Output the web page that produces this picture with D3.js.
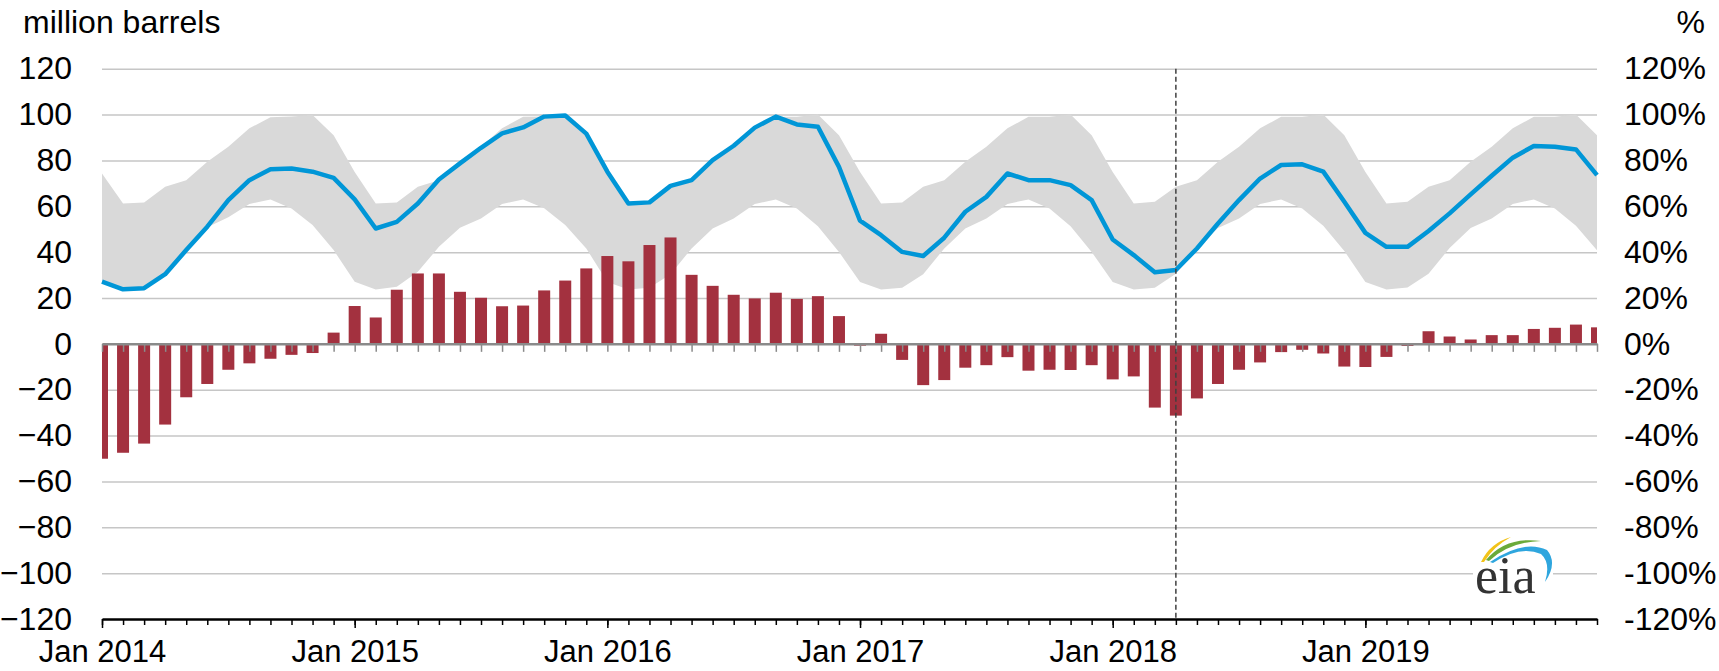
<!DOCTYPE html>
<html>
<head>
<meta charset="utf-8">
<style>
  body { margin: 0; background: #fff; }
  svg { display: block; }
  text { font-family: "Liberation Sans", Arial, sans-serif; fill: #000; }
  .tick text { font-size: 32px; }
</style>
<script src="https://d3js.org/d3.v7.min.js"></script>
</head>
<body>
<svg id="chart" width="1719" height="671"></svg>
<script>
// categories: one entry per month, Jan 2014 .. Dec 2019
const years = [2014, 2015, 2016, 2017, 2018, 2019];
const monthNames = ['Jan', 'Feb', 'Mar', 'Apr', 'May', 'Jun', 'Jul', 'Aug', 'Sep', 'Oct', 'Nov', 'Dec'];
const months = d3.merge(years.map(y => monthNames.map(m => m + ' ' + y)));

// bars: million barrels (left axis)
const stockDiff = [
  -50.1, -47.5, -43.5, -35.2, -23.3, -17.5, -11.3, -8.5, -6.5, -4.8, -4.0, 4.9,
  16.5, 11.5, 23.6, 30.7, 30.7, 22.7, 20.1, 16.4, 16.7, 23.3, 27.6, 32.9,
  38.3, 36.0, 43.1, 46.4, 30.1, 25.3, 21.4, 19.8, 22.3, 19.6, 20.8, 12.1,
  -0.8, 4.4, -7.0, -18.0, -15.8, -10.4, -9.3, -5.8, -11.7, -11.3, -11.4, -9.3,
  -15.5, -14.2, -27.8, -31.3, -23.8, -17.5, -11.3, -8.1, -3.6, -2.6, -4.2, -9.9,
  -10.1, -5.7, -0.9, 5.5, 3.2, 1.9, 3.8, 3.8, 6.5, 7.0, 8.4, 7.2
];

// line: percent (right axis)
const pctFull = [
  27.1, 23.8, 24.3, 30.4, 40.9, 51.1, 62.7, 71.4, 76.1, 76.5, 75.1, 72.4,
  63.0, 50.3, 53.2, 61.2, 71.7, 78.7, 85.5, 91.8, 94.4, 99.1, 99.6, 91.7,
  75.1, 61.2, 61.7, 68.9, 71.4, 80.1, 86.4, 94.3, 99.1, 95.7, 94.7, 77.2,
  53.7, 47.4, 40.1, 38.3, 46.3, 57.6, 64.1, 74.3, 71.4, 71.4, 69.2, 62.7,
  45.5, 38.7, 31.2, 32.2, 41.6, 52.5, 62.7, 72.1, 78.0, 78.3, 75.1, 62.0,
  48.4, 42.3, 42.3, 49.2, 56.9, 65.2, 73.3, 81.2, 86.3, 86.0, 84.8, 73.6
];

// shaded range: percent (right axis)
const rangeLow = [
  27.0, 23.7, 24.7, 30.8, 42.0, 50.8, 55.2, 61.0, 63.0, 59.0, 51.8, 40.9,
  27.1, 23.7, 24.9, 31.4, 42.3, 50.6, 54.7, 61.0, 63.0, 59.1, 51.8, 41.6,
  27.0, 23.7, 24.5, 30.4, 41.6, 50.3, 54.7, 61.0, 63.0, 59.0, 51.3, 40.1,
  27.0, 23.7, 24.5, 30.4, 41.6, 50.3, 54.7, 61.0, 63.0, 59.0, 51.3, 40.1,
  27.0, 23.7, 24.5, 30.6, 41.8, 50.5, 54.7, 61.0, 63.0, 59.0, 51.5, 40.5,
  27.0, 23.7, 24.6, 30.6, 41.8, 50.5, 54.7, 61.0, 63.0, 59.0, 51.5, 40.8
];
const rangeHigh = [
  74.3, 61.2, 61.7, 68.5, 71.4, 79.4, 86.0, 94.0, 98.8, 99.1, 99.8, 91.0,
  75.0, 61.2, 61.7, 68.5, 71.4, 79.4, 86.0, 94.0, 99.0, 99.1, 99.8, 91.0,
  75.0, 61.2, 61.7, 68.5, 71.4, 79.4, 86.0, 94.0, 99.0, 99.0, 100.0, 91.0,
  75.0, 61.2, 61.7, 68.5, 71.4, 79.4, 86.0, 94.0, 99.0, 99.0, 100.0, 91.0,
  75.0, 61.2, 62.0, 68.5, 71.4, 79.4, 86.0, 94.0, 99.0, 99.0, 100.0, 91.0,
  75.0, 61.2, 62.0, 68.5, 71.4, 79.4, 86.0, 94.0, 99.0, 99.0, 100.0, 91.0
];

const yTicks = [-120, -100, -80, -60, -40, -20, 0, 20, 40, 60, 80, 100, 120];
const janTicks = months.filter(m => m.startsWith('Jan'));
const markerMonth = 'Apr 2018';

const svg = d3.select('#chart');
const plotLeft = 102, plotRight = 1597, plotTop = 68.7, plotBottom = 619;

const x = d3.scalePoint().domain(months).range([plotLeft, plotRight]);
const y = d3.scaleLinear().domain([-120, 120]).range([plotBottom, plotTop]);

// horizontal gridlines
svg.append('g')
  .attr('transform', 'translate(' + plotLeft + ',0)')
  .call(d3.axisLeft(y).tickValues(yTicks.filter(v => v !== 0 && v !== -120))
        .tickSize(-(plotRight - plotLeft)).tickFormat(''))
  .call(g => g.select('.domain').remove())
  .selectAll('line').attr('stroke', '#c6c6c6').attr('stroke-width', 1.5);

// left labels
svg.append('g')
  .attr('transform', 'translate(' + plotLeft + ',0)')
  .call(d3.axisLeft(y).tickValues(yTicks).tickSize(0).tickPadding(30))
  .call(g => g.select('.domain').remove());

// right labels
svg.append('g')
  .attr('transform', 'translate(' + plotRight + ',0)')
  .call(d3.axisRight(y).tickValues(yTicks).tickSize(0).tickPadding(27).tickFormat(d => d + '%'))
  .call(g => g.select('.domain').remove());

svg.append('clipPath').attr('id', 'plotClip')
  .append('rect').attr('x', plotLeft).attr('y', 0).attr('width', plotRight - plotLeft).attr('height', 671);

// shaded range
svg.append('path')
  .datum(months)
  .attr('fill', '#d9d9d9')
  .attr('d', d3.area()
    .x(m => x(m))
    .y0((m, i) => y(rangeLow[i]))
    .y1((m, i) => y(rangeHigh[i])));

// bars
const bw = 12;
svg.append('g').attr('clip-path', 'url(#plotClip)')
  .selectAll('rect')
  .data(months)
  .join('rect')
  .attr('x', m => x(m) - bw / 2)
  .attr('width', bw)
  .attr('y', (m, i) => y(Math.max(0, stockDiff[i])))
  .attr('height', (m, i) => Math.abs(y(stockDiff[i]) - y(0)))
  .attr('fill', '#a3313f');

// zero line with month ticks
svg.append('g')
  .attr('transform', 'translate(0,' + y(0) + ')')
  .call(d3.axisBottom(x).tickSize(8).tickSizeOuter(0).tickFormat(''))
  .call(g => g.select('.domain').attr('stroke', '#8a8a8a').attr('stroke-width', 2.5))
  .selectAll('line').attr('stroke', '#8a8a8a').attr('stroke-width', 1.5);

// bottom axis: month ticks
svg.append('g')
  .attr('transform', 'translate(0,' + plotBottom + ')')
  .call(d3.axisBottom(x).tickSize(6).tickSizeOuter(0).tickFormat(''))
  .call(g => g.select('.domain').attr('stroke', '#000').attr('stroke-width', 2.5))
  .selectAll('line').attr('stroke', '#000').attr('stroke-width', 1.5);

// bottom axis: year labels
svg.append('g')
  .attr('transform', 'translate(0,' + plotBottom + ')')
  .call(d3.axisBottom(x).tickValues(janTicks).tickSize(9).tickPadding(12).tickSizeOuter(0))
  .call(g => g.select('.domain').remove())
  .call(g => g.selectAll('text').style('font-size', '31px'))
  .selectAll('line').attr('stroke', '#000').attr('stroke-width', 1.5);

// percent line
svg.append('path')
  .datum(months)
  .attr('fill', 'none')
  .attr('stroke', '#0096d7')
  .attr('stroke-width', 4.5)
  .attr('stroke-linejoin', 'round')
  .attr('d', d3.line().x(m => x(m)).y((m, i) => y(pctFull[i])));

// dashed marker
svg.append('line')
  .attr('x1', x(markerMonth)).attr('x2', x(markerMonth))
  .attr('y1', plotTop).attr('y2', plotBottom)
  .attr('stroke', '#404040').attr('stroke-width', 1.5)
  .attr('stroke-dasharray', '5,3');

// axis titles
svg.append('text').attr('x', 23).attr('y', 33).style('font-size', '32px').text('million barrels');
svg.append('text').attr('x', 1705).attr('y', 33).attr('text-anchor', 'end').style('font-size', '32px').text('%');

// eia logo
const logo = svg.append('g');
logo.append('rect').attr('x', 1473).attr('y', 562).attr('width', 80).attr('height', 36).attr('fill', '#fff');
logo.append('path').attr('fill', '#f2c318')
  .attr('d', 'M1481,562 Q1490,543 1511,537 Q1494,546 1484,562 Z');
logo.append('path').attr('fill', '#6aaa3a')
  .attr('d', 'M1486,560 Q1506,536 1541,541 Q1509,542 1489,561 Z');
logo.append('path').attr('fill', '#2fa6de')
  .attr('d', 'M1490,562 Q1524,539 1547,550 Q1558,563 1545,582 Q1551,563 1541,554 Q1520,545 1493,563 Z');
logo.append('text').attr('x', 1475).attr('y', 593)
  .style('font-family', '"Liberation Serif", "DejaVu Serif", serif')
  .style('font-size', '52px').style('fill', '#333')
  .text('eia');
</script>
</body>
</html>
